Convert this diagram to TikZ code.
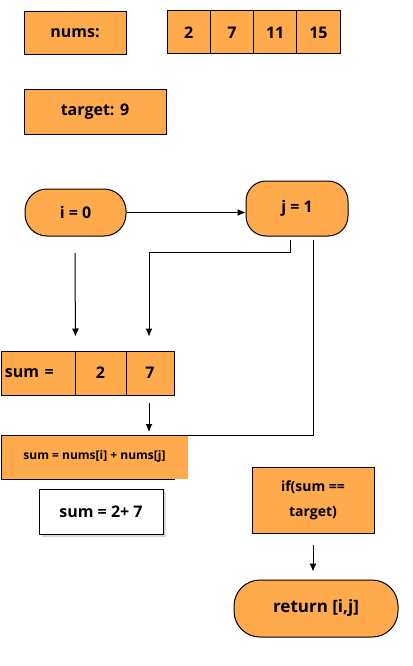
\documentclass[tikz,border=0pt]{standalone}
\usepackage{fontspec}
\setmainfont{Open Sans}
\usetikzlibrary{positioning}
\usetikzlibrary{shadows}
\usetikzlibrary{arrows.meta}
\definecolor{box-orange}{RGB}{255, 170, 77}

\begin{document}
\begin{tikzpicture}[x=1pt, y=-1pt, line width=1pt,
    box/.style={draw=black, fill=box-orange, inner sep=0pt, font=\fontsize{16}{19}\selectfont\bfseries},
    pill/.style={box, rounded corners=22pt},
    arrow/.style={-{Latex[length=8pt, width=7pt]}, black}]
\useasboundingbox (0,0) rectangle (412,666);
% top
\node[box, minimum width=102, minimum height=43] (nums) at (75,33.5) {nums:};
\foreach \v [count=\k] in {2,7,11,15}
    \node[box, minimum width=43.25, minimum height=43] (c\k) at (145.4+43.25*\k,32.5) {\v};
\node[box, minimum width=142, minimum height=44] (target) at (95,112) {target: 9};
% loops
\node[pill, minimum width=101, minimum height=47] (i) at (75.5,212.5) {i = 0};
\node[pill, minimum width=102, minimum height=55, rounded corners=20pt] (j) at (297,208.5) {j = 1};
\draw[arrow] (i.east) -- (i.east -| j.west);
% sum row
\node[box, minimum width=74, minimum height=44, text width=66, align=left, font=\fontsize{16}{19}\selectfont\bfseries] (sumlbl) at (38,373) {sum =};
\node[box, minimum width=51, minimum height=44] (s2) at (100.5,373) {2};
\node[box, minimum width=48, minimum height=44] (s7) at (150,373) {7};
\coordinate (ia) at (75,253);
\coordinate (jl) at (290,240);
\coordinate (jr) at (313,240);
\coordinate (jturn) at (149,252);
\draw[arrow, shorten >=14pt] (ia) -- (sumlbl.north east);
\draw[arrow, shorten >=14pt] (jl) |- (jturn) -- (jturn |- s7.north);
% sum line
\node[fill=box-orange, inner sep=0pt, anchor=north west, minimum width=186, minimum height=43,
    font=\fontsize{12}{14}\selectfont\bfseries] (sumeq) at (1,435) {sum = nums[i] + nums[j]\strut\\[4pt]};
\draw (jr) |- (sumeq.north west) -- (sumeq.south west) -- ++(174,0);
\draw[arrow, shorten <=7pt, shorten >=3pt] (jturn |- s7.south) -- (jturn |- sumeq.north);
\node[draw=black, fill=white, drop shadow={opacity=0.3}, inner sep=0pt, minimum width=124, minimum height=45,
    font=\fontsize{16}{19}\selectfont\bfseries] (sumval) at (101,511.5) {sum = 2+ 7\hspace{10pt}};
% check
\node[box, minimum width=122, minimum height=66, align=center, font=\fontsize{14}{25}\selectfont\bfseries] (check) at (313,500) {if(sum ==\\target)};
\node[pill, minimum width=164, minimum height=57, rounded corners=26pt, font=\fontsize{17}{20}\selectfont\bfseries] (ret) at (316,608.5) {return [i,j]};
\draw[arrow, shorten <=11pt, shorten >=8pt] (check.south) -- (check.south |- ret.north);
\end{tikzpicture}
\end{document}
